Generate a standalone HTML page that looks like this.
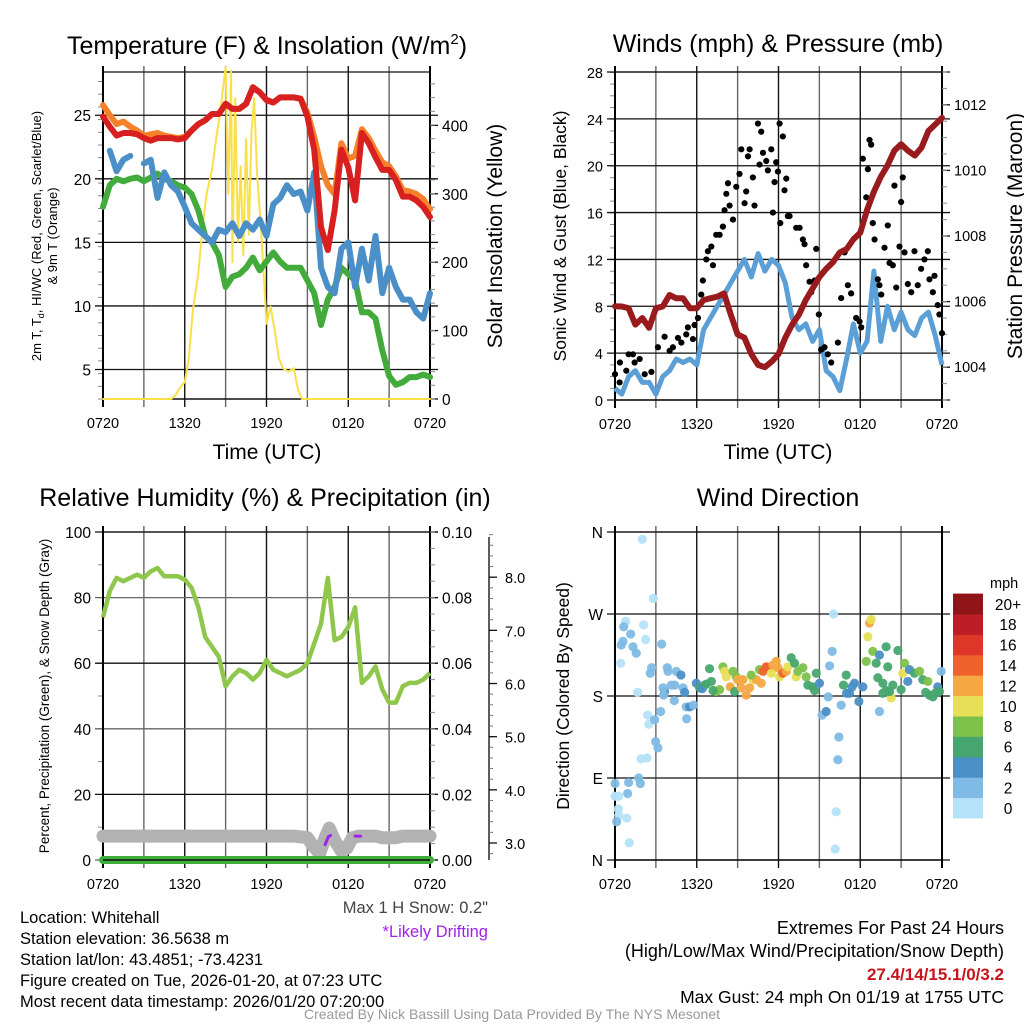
<!DOCTYPE html>
<html><head><meta charset="utf-8"><style>
html,body{margin:0;padding:0;background:#fff;}
svg{display:block;font-family:"Liberation Sans",Arial,sans-serif;}
</style></head><body>
<svg id="c" width="1024" height="1024" viewBox="0 0 1024 1024">
<rect width="1024" height="1024" fill="#fff"/>
<g id="p1"></g>
<g id="p2"></g>
<g id="p3"></g>
<g id="p4"></g>
<g id="txt" font-size="16.5">
<text x="20" y="923">Location: Whitehall</text>
<text x="20" y="944">Station elevation: 36.5638 m</text>
<text x="20" y="965">Station lat/lon: 43.4851; -73.4231</text>
<text x="20" y="986">Figure created on Tue, 2026-01-20, at 07:23 UTC</text>
<text x="20" y="1007">Most recent data timestamp: 2026/01/20 07:20:00</text>
<text x="488" y="913" text-anchor="end" fill="#444">Max 1 H Snow: 0.2"</text>
<text x="488" y="937" text-anchor="end" fill="#a020f0">*Likely Drifting</text>
<text x="1004" y="934" text-anchor="end" font-size="18">Extremes For Past 24 Hours</text>
<text x="1004" y="957" text-anchor="end" font-size="18">(High/Low/Max Wind/Precipitation/Snow Depth)</text>
<text x="1004" y="980" text-anchor="end" font-size="17" fill="#c8141e" font-weight="bold">27.4/14/15.1/0/3.2</text>
<text x="1004" y="1003" text-anchor="end" font-size="17.5">Max Gust: 24 mph On 01/19 at 1755 UTC</text>
<text x="512" y="1019" text-anchor="middle" fill="#999" font-size="14">Created By Nick Bassill Using Data Provided By The NYS Mesonet</text>
</g>
</svg>
<script>
const xTickLabels=["0720","1320","1920","0120","0720"];
const hours=[0,0.5,1,1.5,2,2.5,3,3.5,4,4.5,5,5.5,6,6.5,7,7.5,8,8.5,9,9.5,10,10.5,11,11.5,12,12.5,13,13.5,14,14.5,15,15.5,16,16.5,17,17.5,18,18.5,19,19.5,20,20.5,21,21.5,22,22.5,23,23.5,24];
const temp2m=[24.9,24.1,23.4,23.6,23.6,23.5,23.2,23.0,23.2,23.2,23.2,23.1,23.2,23.8,24.3,24.6,25.1,25.1,25.9,25.5,25.5,25.9,27.2,26.8,26.2,26.0,26.4,26.4,26.4,26.3,24.9,22.3,16.2,14.4,17.5,22.3,20.9,18.3,23.6,22.8,21.7,20.7,20.7,19.9,18.6,18.6,18.3,17.8,17.0];
const temp9m=[25.8,25.0,24.3,24.5,24.1,23.8,23.4,23.5,23.6,23.4,23.3,23.2,23.3,23.8,24.3,24.6,25.1,25.1,25.9,25.5,25.5,25.9,27.2,26.8,26.2,26.0,26.4,26.4,26.4,26.3,25.2,23.3,21.0,19.5,18.8,22.8,21.6,21.8,23.9,23.2,22.2,21.3,21.0,20.2,19.1,19.0,18.8,18.4,17.6];
const windChill=[null,22.2,20.6,21.5,21.8,null,21.2,21.5,18.5,20.5,19.5,19.0,17.8,16.5,16.0,15.5,15.0,16.0,15.8,16.5,15.5,16.5,16.0,16.8,15.5,18.0,18.5,19.5,18.8,19.0,17.5,20.5,13.0,11.5,11.0,14.5,15.0,11.5,14.5,12.0,15.5,11.0,13.0,11.5,10.5,10.5,9.5,9.0,11.0];
const dewPoint=[17.8,19.5,20.0,19.8,20.0,20.1,19.8,20.1,20.4,20.0,19.8,19.5,19.3,18.8,17.5,15.5,15.0,14.0,11.5,12.3,12.5,13.0,13.8,12.8,13.5,14.2,13.5,13.0,13.0,13.0,12.0,11.0,8.5,10.5,11.5,13.0,12.5,12.0,9.5,9.5,9.0,6.5,4.5,3.8,4.0,4.4,4.4,4.6,4.4];
const solarHours=[0,5,5.3,5.6,6,6.3,6.6,7,7.3,7.6,8,8.3,8.6,9,9.2,9.4,9.5,9.7,9.9,10.1,10.3,10.5,10.7,10.9,11.1,11.3,11.6,12,12.3,12.6,12.9,13.2,13.6,14,14.3,14.6,15,24];
const solar=[0,0,5,15,25,60,130,185,250,300,335,380,420,485,300,480,200,440,230,340,210,380,240,390,440,330,250,110,135,100,60,45,40,45,15,0,0,0];
const tempLeftTicks=[5,10,15,20,25];
const solarTicks=[0,100,200,300,400];

const pressure=[1005.86,1005.85,1005.8,1005.3,1005.5,1005.2,1005.8,1005.85,1006.2,1006.1,1006.1,1005.8,1005.8,1006.05,1006.1,1006.15,1006.25,1005.6,1005.0,1004.9,1004.4,1004.07,1004.0,1004.17,1004.4,1004.9,1005.3,1005.6,1006.05,1006.4,1006.75,1007.0,1007.2,1007.5,1007.6,1007.9,1008.1,1008.8,1009.35,1009.8,1010.15,1010.6,1010.8,1010.6,1010.45,1010.7,1011.2,1011.4,1011.6];
const windSpeed=[1.0,0.5,2.0,2.5,1.5,1.5,0.5,2.0,2.5,3.5,3.2,3.5,3.0,6.0,7.0,8.0,9.0,10.0,11.0,12.0,10.5,12.5,11.0,12.0,11.5,10.0,7.0,6.0,6.5,5.0,6.0,2.5,2.0,0.8,3.5,6.5,4.0,5.0,11.0,5.0,8.0,6.0,7.5,6.0,5.5,7.0,7.5,5.5,3.0];
const gustHours=[0,0.34,0.36,0.83,1.0,1.32,1.44,1.81,2.18,2.67,3.15,3.64,4.01,4.25,4.62,4.87,5.23,5.35,5.72,5.84,6.09,6.33,6.45,6.70,6.82,7.07,7.19,7.43,7.68,7.92,8.04,8.17,8.29,8.41,8.66,8.90,9.14,9.27,9.51,9.63,9.76,9.88,10.12,10.24,10.49,10.61,10.73,10.86,11.10,11.22,11.47,11.59,11.71,11.83,11.96,12.08,12.13,12.32,12.44,12.57,12.69,12.81,13.30,13.55,13.79,13.91,14.03,14.28,14.40,14.65,14.77,14.96,15.13,15.38,15.62,15.87,16.36,16.60,16.85,17.09,17.33,17.70,17.95,18.07,18.19,18.44,18.56,18.68,18.80,18.92,19.05,19.29,19.41,19.54,19.78,20.02,20.15,20.39,20.51,20.64,20.88,21.00,21.12,21.25,21.49,21.74,21.98,22.22,22.47,22.71,22.96,23.08,23.33,23.45,23.69,23.81,24.0];
const gust=[2.2,1.5,3.2,2.5,3.9,3.9,3.2,3.5,2.2,2.4,4.5,5.4,4.2,4.5,5.3,4.9,5.6,6.2,5.2,6.4,7.0,9.0,10.2,12.0,12.7,13.1,11.5,14.1,14.1,14.8,16.2,17.6,18.5,16.6,15.4,18.2,19.3,21.4,16.8,17.8,20.8,21.4,19.0,16.6,23.6,20.1,22.9,21.1,20.4,19.6,21.4,16.0,18.6,20.3,19.5,23.6,15.1,22.5,17.9,18.9,15.7,15.7,14.7,14.7,13.7,13.3,11.5,10.1,9.2,10.2,12.9,7.3,4.3,4.5,3.9,3.2,4.9,8.7,12.6,9.8,9.1,7.0,6.7,6.2,20.6,17.3,19.7,22.2,21.8,15.1,13.7,10.3,9.8,9.0,13.0,14.9,11.7,11.5,18.3,9.6,13.1,16.9,19.0,12.6,9.9,9.2,12.7,9.8,11.2,12.0,12.7,10.3,9.2,10.6,8.1,7.3,5.7];
const windTicks=[0,4,8,12,16,20,24,28];
const pressureTicks=[1004,1006,1008,1010,1012];

const rh=[74,82,86,85,86,87,86,88,89,86.5,86.5,86.5,85.5,83,77,68,65,62,53,56,58,57,55,57,61,58,57,56,57,58,60,66,72,86,67,68,71,77,54,56,59,52,48,48,53,54,54,55,57];
const snowHours=[0,3,6,9,12,14,15,15.4,15.9,16.3,16.6,17,17.5,17.9,18.3,18.8,20,20.5,21.5,22,24];
const snowDepth=[3.13,3.13,3.13,3.13,3.13,3.13,3.1,2.95,2.8,3.1,3.28,3.05,2.85,2.9,3.1,3.13,3.13,3.1,3.1,3.13,3.13];
const driftHours=[16.3,16.55,16.7];
const driftDepth=[2.97,3.12,3.14];
const drift2Hours=[18.5,18.9];
const drift2Depth=[3.13,3.13];
const precip=[0,0];
const precipHours=[0,24];
const rhTicks=[0,20,40,60,80,100];
const precipTickLabels=["0.00","0.02","0.04","0.06","0.08","0.10"];
const snowTicks=[3,4,5,6,7,8];

const dirHours=[2.0,2.81,0.78,0.64,2.1,1.15,0.59,0.46,1.32,1.56,2.25,0.42,3.42,2.69,2.59,1.66,3.84,3.89,4.5,4.84,3.64,3.52,4.13,4.38,4.99,5.11,5.23,5.48,5.77,5.26,4.35,3.57,3.35,2.4,2.49,2.91,2.98,3.15,1.91,2.35,1.74,1.86,1.0,0,0.93,0.27,0,0.24,0.27,0.12,0.86,1.05,5.97,6.21,6.58,6.94,7.07,7.43,7.68,7.92,8.04,8.17,8.46,8.66,8.78,8.9,9.14,9.27,9.39,9.63,9.88,10.12,10.37,10.61,10.73,10.86,11.1,11.22,11.47,11.59,11.83,11.96,12.08,12.32,12.57,12.69,12.93,13.18,13.3,13.42,13.79,14.03,14.16,14.52,14.77,14.65,15.01,15.2,15.5,15.65,15.75,15.94,16.04,16.43,16.36,16.23,16.16,16.6,16.77,16.97,17.21,17.58,17.9,18.19,18.44,18.56,18.68,18.8,18.92,19.17,19.29,19.41,19.41,19.66,19.9,20.02,20.27,20.39,20.76,21,21.12,21.25,21.49,21.61,21.98,22.35,22.59,22.96,23.08,23.33,23.69,23.94,23.81,19.66,20.15,6.4,6.7,7.2,9.0,10.0,17.0,17.4,19.9,22.8,23.5];
const dirDeg=[352,287,262,256,258,248,240,236,234,227,242,216,237,211,205,184,211,207,207,203,185,189,192,192,189,184,168,168,170,155,175,181,163,159,149,154,130,123,111,112,90,84,85,84,73,70,70,56,49,42,46,19,194,189,192,210,196,185,187,212,207,201,190,207,185,201,198,189,198,181,189,198,198,209,194,207,212,211,205,214,218,211,201,205,207,212,222,216,201,207,211,201,192,190,205,186,194,159,163,179,213,229,270,135,110,53,12,170,192,203,183,194,174,190,218,245,260,264,229,216,200,163,225,183,234,212,178,192,230,187,205,216,196,209,205,207,198,196,181,179,190,207,185,194,185,188,193,186,198,203,183,190,186,184,183];
const dirSpeed=[1,1,1,3,1,3,3,3,3,3,1,1,3.5,2,3,1,3,3,3,4,4,3,2,3,3,4,3,4,3,3,3,3,3,1,1,2,3,3,1,1,3,3,3,2,3,1,1,1,1,2,1,1,5,6,6,6,7,8,8,8,10,10,12,8,7,8,10,13,12,12,12,11,12,8,12,15,15,14,11,13,12,12,10,15,12,10,6,6,10,8,8,8,7,7,6,7,4,2,4,3,2,2,1,3,3,1,1,3,6,6,5,4,4,4,8,10,12,11,8,6,6,3,4,6,6,6,10,7,7,6,10,8,4,4,6,8,6,8,6,6,4,3,6,6,6,4,6,7,12,8,5,5,6,6,7];
const dirTickLabels=["N","E","S","W","N"];
const speedBinLabels=["0","2","4","6","8","10","12","14","16","18","20+"];
const speedColors=["#b5e2f8","#7fbbe5","#4a8fc6","#47a66f","#7dc14b","#e7df57","#f5a842","#ef622c","#de3628","#bd1d25","#8f1519"];

const NS="http://www.w3.org/2000/svg";
function mk(parent,tag,attrs){const e=document.createElementNS(NS,tag);for(const k in attrs)e.setAttribute(k,attrs[k]);parent.appendChild(e);return e;}
function lin(d0,d1,r0,r1){return v=>r0+(v-d0)*(r1-r0)/(d1-d0);}
function pathFrom(xs,ys,sx,sy){let d="",pen=false;for(let i=0;i<xs.length;i++){if(ys[i]===null||ys[i]===undefined){pen=false;continue;}d+=(pen?"L":"M")+sx(xs[i]).toFixed(1)+","+sy(ys[i]).toFixed(1);pen=true;}return d;}

function frame(g,X0,X1,Y0,Y1,sx,sy,yTicks,yLabels,opts){
  for(let h=0;h<=24;h+=3){
    const x=sx(h);
    const gl=mk(g,"line",{x1:x,y1:Y0-6,x2:x,y2:Y1+8,stroke:(h/3)%2?"#666":"#111","stroke-width":1.4});
    
    
  }
  xTickLabels.forEach((t,i)=>{
    const tx=mk(g,"text",{x:sx(i*6),y:Y1+29,"text-anchor":"middle","font-size":14.5});
    tx.textContent=t;
    
    
  });
  yTicks.forEach((v,i)=>{
    const y=sy(v);
    const gl=mk(g,"line",{x1:X0-8,y1:y,x2:X1+8,y2:y,stroke:opts.hgrid?opts.hgrid(i):"#111","stroke-width":1.3});
    
    
    const tx=mk(g,"text",{x:X0-12,y:y+6,"text-anchor":"end","font-size":opts.yfs||15});
    tx.textContent=yLabels[i];
    
    
  });
  mk(g,"line",{x1:X0,y1:Y0,x2:X1,y2:Y0,stroke:"#111","stroke-width":1.3});
  mk(g,"line",{x1:X0,y1:Y1,x2:X1,y2:Y1,stroke:"#111","stroke-width":1.6});
  mk(g,"line",{x1:X0,y1:Y0-6,x2:X0,y2:Y1+8,stroke:"#000","stroke-width":2});
  mk(g,"line",{x1:X1,y1:Y0-6,x2:X1,y2:Y1+8,stroke:"#000","stroke-width":2});
}
function minorTicks(g,x,y0,y1,step,dir){
  for(let y=y0;y>=y1;y-=step){mk(g,"line",{x1:x,y1:y,x2:x+dir*5,y2:y,stroke:"#888","stroke-width":1});}
}
function txt(g,s,attrs,name){const t=mk(g,"text",attrs);t.textContent=s;return t;}

// ---- Panel 1 ----
(function(){
  const g=document.getElementById("p1");
  const X0=103,X1=430,Y0=72,Y1=399;
  const sx=lin(0,24,X0,X1), sy=lin(2.68,28.4,Y1,Y0), sr=lin(0,478,Y1,Y0);
  minorTicks(g,X0,Y1,Y0,12.7,-1);
  frame(g,X0,X1,Y0,Y1,sx,sy,tempLeftTicks,tempLeftTicks.map(String),{yfs:15.5});
  solarTicks.forEach(v=>{const y=sr(v);mk(g,"line",{x1:X1,y1:y,x2:X1+8,y2:y,stroke:"#111","stroke-width":1.3});
    txt(g,String(v),{x:X1+12,y:y+6,"font-size":15.5},"solar-tick-label");});
  minorTicks(g,X1,Y1,Y0,13.7,1);
  const series=[[solarHours,solar,"#f9e04b",2,sr,"solar-line"],[hours,dewPoint,"#42ab3c",6,sy,"dewpoint-line"],[hours,windChill,"#4b8fc8",6,sy,"windchill-line"],[hours,temp9m,"#f5822a",6,sy,"temp-9m-line"],[hours,temp2m,"#d7201f",6,sy,"temp-2m-line"]];
  series.forEach(s=>{const p=mk(g,"path",{d:pathFrom(s[0],s[1],sx,s[4]),fill:"none",stroke:s[2],"stroke-width":s[3],"stroke-linejoin":"round","stroke-linecap":"round"});
    });
  const t=txt(g,"",{x:267,y:54,"text-anchor":"middle","font-size":25},"panel-title");
  t.innerHTML='Temperature (F) &amp; Insolation (W/m<tspan font-size="15" dy="-10">2</tspan><tspan dy="10">)</tspan>';
  txt(g,"Time (UTC)",{x:267,y:459,"text-anchor":"middle","font-size":21},"x-axis-title");
  const yl=txt(g,"",{transform:"translate(41,236) rotate(-90)","text-anchor":"middle","font-size":13},"y-axis-title");
  yl.innerHTML='<tspan x="0" dy="0">2m T, T<tspan font-size="9" dy="3">d</tspan><tspan dy="-3">, HI/WC (Red, Green, Scarlet/Blue)</tspan></tspan><tspan x="0" dy="16">&amp; 9m T (Orange)</tspan>';
  txt(g,"Solar Insolation (Yellow)",{transform:"translate(502,236) rotate(-90)","text-anchor":"middle","font-size":21},"right-axis-title");
})();

// ---- Panel 2 ----
(function(){
  const g=document.getElementById("p2");
  const X0=615,X1=942,Y0=72,Y1=400;
  const sx=lin(0,24,X0,X1), sy=lin(0,28,Y1,Y0), sp=lin(1003,1013,Y1,Y0);
  minorTicks(g,X0,Y1,Y0,11.7,-1);
  frame(g,X0,X1,Y0,Y1,sx,sy,windTicks,windTicks.map(String),{yfs:14.5});
  pressureTicks.forEach(v=>{const y=sp(v);mk(g,"line",{x1:X1,y1:y,x2:X1+8,y2:y,stroke:"#111","stroke-width":1.3});
    txt(g,String(v),{x:X1+12,y:y+5,"font-size":14.5},"pressure-tick-label");});
  minorTicks(g,X1,Y1,Y0,16.4,1);
  let p=mk(g,"path",{d:pathFrom(hours,windSpeed,sx,sy),fill:"none",stroke:"#5b9fd6","stroke-width":5,"stroke-linejoin":"round"});
  
  
  gustHours.forEach((h,i)=>{const c=mk(g,"circle",{cx:sx(h),cy:sy(gust[i]),r:3.1,fill:"#000"});
    
    });
  p=mk(g,"path",{d:pathFrom(hours,pressure,sx,sp),fill:"none",stroke:"#9a1b1e","stroke-width":6,"stroke-linejoin":"round","stroke-linecap":"round"});
  
  
  txt(g,"Winds (mph) & Pressure (mb)",{x:778,y:52,"text-anchor":"middle","font-size":25},"panel-title");
  txt(g,"Time (UTC)",{x:778,y:459,"text-anchor":"middle","font-size":21},"x-axis-title");
  txt(g,"Sonic Wind & Gust (Blue, Black)",{transform:"translate(566,236) rotate(-90)","text-anchor":"middle","font-size":17.5},"y-axis-title");
  txt(g,"Station Pressure (Maroon)",{transform:"translate(1022,236) rotate(-90)","text-anchor":"middle","font-size":21},"right-axis-title");
})();

// ---- Panel 3 ----
(function(){
  const g=document.getElementById("p3");
  const X0=103,X1=430,Y0=532,Y1=860;
  const sx=lin(0,24,X0,X1), sy=lin(0,100,Y1,Y0), ss=lin(2.68,8.85,Y1,Y0), spr=lin(0,0.1,Y1,Y0);
  minorTicks(g,X0,Y1,Y0,32.8,-1);
  frame(g,X0,X1,Y0,Y1,sx,sy,rhTicks,rhTicks.map(String),{yfs:15.5,hgrid:i=>(i%2)?"#111":"#666"});
  precipTickLabels.forEach((s,i)=>{const y=spr(i*0.02);mk(g,"line",{x1:X1,y1:y,x2:X1+8,y2:y,stroke:"#111","stroke-width":1.3});
    txt(g,s,{x:X1+12,y:y+6,"font-size":15.5},"precip-tick-label");});
  minorTicks(g,X1,Y1,Y0,16.4,1);
  mk(g,"line",{x1:489,y1:537,x2:489,y2:860,stroke:"#333","stroke-width":1.6});
  for(let v=2.8;v<=8.8;v+=0.2){const y=ss(v);mk(g,"line",{x1:489,y1:y,x2:493,y2:y,stroke:"#777","stroke-width":1});}
  snowTicks.forEach(v=>{const y=ss(v);mk(g,"line",{x1:489,y1:y,x2:497,y2:y,stroke:"#111","stroke-width":1.3});
    txt(g,v.toFixed(1),{x:505,y:y+6,"font-size":14.5},"snow-tick-label");});
  let p=mk(g,"path",{d:pathFrom(snowHours,snowDepth,sx,ss),fill:"none",stroke:"#b2b2b2","stroke-width":13,"stroke-linejoin":"round","stroke-linecap":"round"});
  
  
  p=mk(g,"path",{d:pathFrom(precipHours,precip,sx,spr),fill:"none",stroke:"#3fae3d","stroke-width":8,"stroke-linecap":"round"});
  
  
  mk(g,"line",{x1:X0,y1:Y1,x2:X1,y2:Y1,stroke:"#111","stroke-width":1.4});
  [[driftHours,driftDepth],[drift2Hours,drift2Depth]].forEach(d=>{p=mk(g,"path",{d:pathFrom(d[0],d[1],sx,ss),fill:"none",stroke:"#a020f0","stroke-width":3,"stroke-linecap":"round"});
    
    });
  p=mk(g,"path",{d:pathFrom(hours,rh,sx,sy),fill:"none",stroke:"#8fc64c","stroke-width":4.5,"stroke-linejoin":"round"});
  
  
  txt(g,"Relative Humidity (%) & Precipitation (in)",{x:265,y:506,"text-anchor":"middle","font-size":25},"panel-title");
  txt(g,"Percent, Precipitation (Green), & Snow Depth (Gray)",{transform:"translate(49,696) rotate(-90)","text-anchor":"middle","font-size":13.5},"y-axis-title");
})();

// ---- Panel 4 ----
(function(){
  const g=document.getElementById("p4");
  const X0=615,X1=942,Y0=532,Y1=860;
  const sx=lin(0,24,X0,X1), sy=lin(0,360,Y1,Y0);
  frame(g,X0,X1,Y0,Y1,sx,sy,[0,90,180,270,360],dirTickLabels,{yfs:15.5});
  dirHours.forEach((h,i)=>{const b=Math.min(10,Math.floor(dirSpeed[i]/2));
    const c=mk(g,"circle",{cx:sx(h),cy:sy(dirDeg[i]),r:4.6,fill:speedColors[b],opacity:0.95});
    
    });
  const bh=20.4;
  speedColors.forEach((col,i)=>{const y=818-(i+1)*bh;
    const r=mk(g,"rect",{x:953,y:y,width:30,height:bh+0.5,fill:col});
    
    
    txt(g,speedBinLabels[i],{x:1008,y:y+bh/2+6,"text-anchor":"middle","font-size":15.5},"colorbar-label");});
  txt(g,"mph",{x:990,y:588,"font-size":14.5},"colorbar-title");
  txt(g,"Wind Direction",{x:778,y:506,"text-anchor":"middle","font-size":25},"panel-title");
  txt(g,"Direction (Colored By Speed)",{transform:"translate(569,696) rotate(-90)","text-anchor":"middle","font-size":17.5},"y-axis-title");
})();
</script>
</body></html>
